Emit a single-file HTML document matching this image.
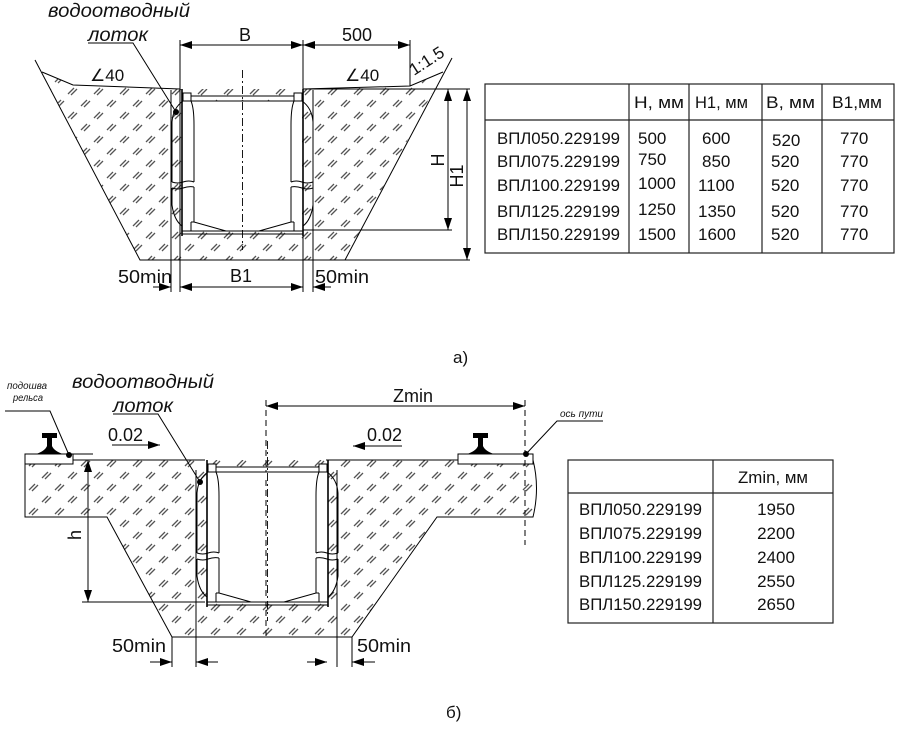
<!DOCTYPE html>
<html><head><meta charset="utf-8"><style>
html,body{margin:0;padding:0;background:#fff}
svg{display:block}
text{font-family:"Liberation Sans",sans-serif;fill:#111}
.it{font-style:italic}
</style></head><body>
<svg width="900" height="729" viewBox="0 0 900 729" xmlns="http://www.w3.org/2000/svg">
<defs>
<pattern id="h" width="26" height="24" patternUnits="userSpaceOnUse">
<g stroke="#555" stroke-width="1.3">
<path d="M3,10 L9,4 M6,11 L12,5"/>
<path d="M16,22 L22,16 M19,23 L25,17"/>
</g>
</pattern>
<marker id="ae" markerWidth="12" markerHeight="8" refX="12" refY="4" orient="auto" markerUnits="userSpaceOnUse"><path d="M0,0 L12,4 L0,8 z" fill="#000"/></marker>
<marker id="as" markerWidth="12" markerHeight="8" refX="0" refY="4" orient="auto" markerUnits="userSpaceOnUse"><path d="M12,0 L0,4 L12,8 z" fill="#000"/></marker>
<g id="half" fill="none" stroke="#000" stroke-width="1">
<rect x="183" y="93" width="8" height="8" fill="#fff"/>
<path d="M182,89 L182,236" stroke-width="1.6"/>
<path d="M183,101 Q173,108 172,122 L172,182"/>
<path d="M172,188 L172,205 Q174,220 182,226"/>
<path d="M191,101 Q194,108 194,125 L194,182"/>
<path d="M194,187 L194,222"/>
<path d="M172,182 Q178,184 183,182 Q189,180 194,182 M172,188 Q178,190 183,188 Q189,186 194,187"/>
<path d="M191,222 L194,222 L226,231"/>
<path d="M191,222 L191,231"/>
</g>
<g id="chan">
<rect x="183" y="101" width="119" height="130" fill="#fff"/>
<use href="#half"/>
<use href="#half" transform="translate(485,0) scale(-1,1)"/>
<g fill="none" stroke="#000" stroke-width="1">
<path d="M191,96 L294,96 M191,101 L294,101"/>
<path d="M182,231 L303,231 M182,234 L303,234"/>
<path d="M242.5,70 L242.5,250" stroke-dasharray="8,3,2,3" stroke-width="0.9"/>
</g>
</g>
</defs>

<!-- ===== a) ===== -->
<path d="M42,72 L73,85 L180,89 L303,89 L410,86 L443,72 L345,260 L140,260 Z" fill="url(#h)"/>
<g fill="none" stroke="#000" stroke-width="1">
<path d="M35,60 L140,260 L470,260"/>
<path d="M42,72 L73,85 L180,89"/>
<path d="M303,89 L410,86 L443,72"/>
<path d="M452,58 L345,260"/>
<path d="M303,89 L470,89"/>
<path d="M303,230 L452,230"/>
<path d="M180,40 L180,292 M303,40 L303,292 M171,90 L171,292 M313,90 L313,292"/>
<path d="M410,40 L410,86"/>
<path d="M180,45 L303,45" marker-start="url(#as)" marker-end="url(#ae)"/>
<path d="M303,45 L410,45" marker-start="url(#as)" marker-end="url(#ae)"/>
<path d="M448,89 L448,230" marker-start="url(#as)" marker-end="url(#ae)"/>
<path d="M467,89 L467,260" marker-start="url(#as)" marker-end="url(#ae)"/>
<path d="M180,287 L303,287" marker-start="url(#as)" marker-end="url(#ae)"/>
<path d="M153,287 L171,287" marker-end="url(#ae)"/>
<path d="M331,287 L313,287" marker-end="url(#ae)"/>
<path d="M88,43 L133,43 L176,112"/>
</g>
<use href="#chan"/>
<circle cx="176" cy="112" r="3" fill="#000"/>
<text x="48" y="17" class="it" font-size="19" textLength="142" lengthAdjust="spacingAndGlyphs">водоотводный</text>
<text x="88" y="41" class="it" font-size="19" textLength="60" lengthAdjust="spacingAndGlyphs">лоток</text>
<text x="245" y="41" font-size="18" text-anchor="middle">B</text>
<text x="357" y="41" font-size="18" text-anchor="middle">500</text>
<text x="0" y="0" font-size="17" transform="translate(414,76) rotate(-33)">1:1.5</text>
<text x="90" y="81" font-size="17">∠40</text>
<text x="345" y="81" font-size="17">∠40</text>
<text x="0" y="0" font-size="18" text-anchor="middle" transform="translate(444,160) rotate(-90)">H</text>
<text x="0" y="0" font-size="18" text-anchor="middle" transform="translate(463,176) rotate(-90)">H1</text>
<text x="241" y="282" font-size="18" text-anchor="middle">B1</text>
<text x="118" y="283" font-size="18" textLength="54" lengthAdjust="spacingAndGlyphs">50min</text>
<text x="315" y="283" font-size="18" textLength="54" lengthAdjust="spacingAndGlyphs">50min</text>
<text x="453" y="363" font-size="17">а)</text>

<!-- table a -->
<g fill="none" stroke="#222" stroke-width="1.2">
<rect x="485" y="84" width="409" height="169"/>
<path d="M485,120 L894,120 M629,84 L629,253 M689,84 L689,253 M762,84 L762,253 M822,84 L822,253"/>
</g>
<g font-size="17">
<text x="634" y="108" textLength="50" lengthAdjust="spacingAndGlyphs">H, мм</text>
<text x="695" y="108" textLength="53" lengthAdjust="spacingAndGlyphs">H1, мм</text>
<text x="766" y="108" textLength="49" lengthAdjust="spacingAndGlyphs">B, мм</text>
<text x="832" y="108" textLength="50" lengthAdjust="spacingAndGlyphs">B1,мм</text>
<text x="497" y="144" textLength="123" lengthAdjust="spacingAndGlyphs">ВПЛ050.229199</text>
<text x="497" y="167" textLength="123" lengthAdjust="spacingAndGlyphs">ВПЛ075.229199</text>
<text x="497" y="191" textLength="123" lengthAdjust="spacingAndGlyphs">ВПЛ100.229199</text>
<text x="497" y="217" textLength="123" lengthAdjust="spacingAndGlyphs">ВПЛ125.229199</text>
<text x="497" y="240" textLength="123" lengthAdjust="spacingAndGlyphs">ВПЛ150.229199</text>
<text x="638" y="144">500</text><text x="702" y="144">600</text><text x="772" y="146">520</text><text x="840" y="144">770</text>
<text x="638" y="165">750</text><text x="702" y="167">850</text><text x="771" y="167">520</text><text x="840" y="167">770</text>
<text x="638" y="189">1000</text><text x="698" y="191">1100</text><text x="771" y="191">520</text><text x="840" y="191">770</text>
<text x="638" y="215">1250</text><text x="698" y="217">1350</text><text x="771" y="217">520</text><text x="840" y="217">770</text>
<text x="638" y="240">1500</text><text x="698" y="240">1600</text><text x="771" y="240">520</text><text x="840" y="240">770</text>
</g>

<!-- ===== б) ===== -->
<path d="M25,460 L533,460 Q540,488 533,517 L437,517 L352,637 L172,637 L107,517 L25,517 Z" fill="url(#h)"/>
<g fill="none" stroke="#000" stroke-width="1">
<path d="M25,460 L25,517 L107,517 L172,637 L352,637 L437,517 L533,517 Q540,488 533,460"/>
<path d="M73,460 L205,460 M326,460 L458,460"/>
<rect x="25" y="454" width="48" height="10" fill="#fff"/>
<rect x="458" y="454" width="75" height="10" fill="#fff"/>
<path d="M25,464 L73,464 M458,464 L533,464" stroke-dasharray="5,3"/>
<path d="M73,454 L93,454"/>
<path d="M88,460 L88,602" marker-start="url(#as)" marker-end="url(#ae)"/>
<path d="M82,602 L205,602"/>
<path d="M196,470 L196,667 M172,637 L172,667 M352,637 L352,667 M337,470 L337,667"/>
<path d="M266,400 L266,640 M525,400 L525,545" stroke-dasharray="6,4"/>
<path d="M266,406 L525,406" marker-start="url(#as)" marker-end="url(#ae)"/>
<path d="M112,445 L160,445" marker-end="url(#ae)"/>
<path d="M402,446 L353,446" marker-end="url(#ae)"/>
<path d="M150,662 L172,662" marker-end="url(#ae)"/>
<path d="M218,662 L196,662" marker-end="url(#ae)"/>
<path d="M307,662 L327,662" marker-end="url(#ae)"/>
<path d="M375,662 L352,662" marker-end="url(#ae)"/>
<path d="M5,411 L50,411 L69,455"/>
<path d="M113,414 L158,414 L200,482"/>
<path d="M603,421 L557,421 L526,454"/>
</g>
<use href="#chan" transform="translate(25,371)"/>
<path d="M266,480 L266,600" stroke="#000" stroke-dasharray="6,4" fill="none"/>
<circle cx="69" cy="455" r="3" fill="#000"/>
<circle cx="200" cy="482" r="3" fill="#000"/>
<circle cx="526" cy="454" r="3" fill="#000"/>
<!-- rails -->
<path d="M42,433 L57,433 L57,438 L52,438 L52,446 Q54,451 63,454 L36,454 Q45,451 47,446 L47,438 L42,438 Z" fill="#000"/>
<path d="M473,433 L488,433 L488,438 L483,438 L483,446 Q485,451 494,454 L467,454 Q476,451 478,446 L478,438 L473,438 Z" fill="#000"/>
<text x="7" y="389" class="it" font-size="10" textLength="40" lengthAdjust="spacingAndGlyphs">подошва</text>
<text x="13" y="401" class="it" font-size="10" textLength="30" lengthAdjust="spacingAndGlyphs">рельса</text>
<text x="560" y="417" class="it" font-size="10" textLength="43" lengthAdjust="spacingAndGlyphs">ось пути</text>
<text x="72" y="388" class="it" font-size="19" textLength="142" lengthAdjust="spacingAndGlyphs">водоотводный</text>
<text x="113" y="412" class="it" font-size="19" textLength="60" lengthAdjust="spacingAndGlyphs">лоток</text>
<text x="108" y="441" font-size="18">0.02</text>
<text x="367" y="441" font-size="18">0.02</text>
<text x="413" y="402" font-size="18" text-anchor="middle">Zmin</text>
<text x="0" y="0" font-size="18" text-anchor="middle" transform="translate(81,535) rotate(-90)">h</text>
<text x="112" y="652" font-size="18" textLength="54" lengthAdjust="spacingAndGlyphs">50min</text>
<text x="357" y="652" font-size="18" textLength="54" lengthAdjust="spacingAndGlyphs">50min</text>
<text x="446" y="718" font-size="17">б)</text>

<!-- table b -->
<g fill="none" stroke="#222" stroke-width="1.2">
<rect x="568" y="460" width="265" height="163"/>
<path d="M568,493 L833,493 M713,460 L713,623"/>
</g>
<g font-size="17">
<text x="773" y="483" text-anchor="middle" textLength="70" lengthAdjust="spacingAndGlyphs">Zmin, мм</text>
<text x="579" y="515" textLength="123" lengthAdjust="spacingAndGlyphs">ВПЛ050.229199</text>
<text x="579" y="539" textLength="123" lengthAdjust="spacingAndGlyphs">ВПЛ075.229199</text>
<text x="579" y="563" textLength="123" lengthAdjust="spacingAndGlyphs">ВПЛ100.229199</text>
<text x="579" y="587" textLength="123" lengthAdjust="spacingAndGlyphs">ВПЛ125.229199</text>
<text x="579" y="610" textLength="123" lengthAdjust="spacingAndGlyphs">ВПЛ150.229199</text>
<text x="776" y="515" text-anchor="middle">1950</text>
<text x="776" y="539" text-anchor="middle">2200</text>
<text x="776" y="563" text-anchor="middle">2400</text>
<text x="776" y="587" text-anchor="middle">2550</text>
<text x="776" y="610" text-anchor="middle">2650</text>
</g>
</svg>
</body></html>
